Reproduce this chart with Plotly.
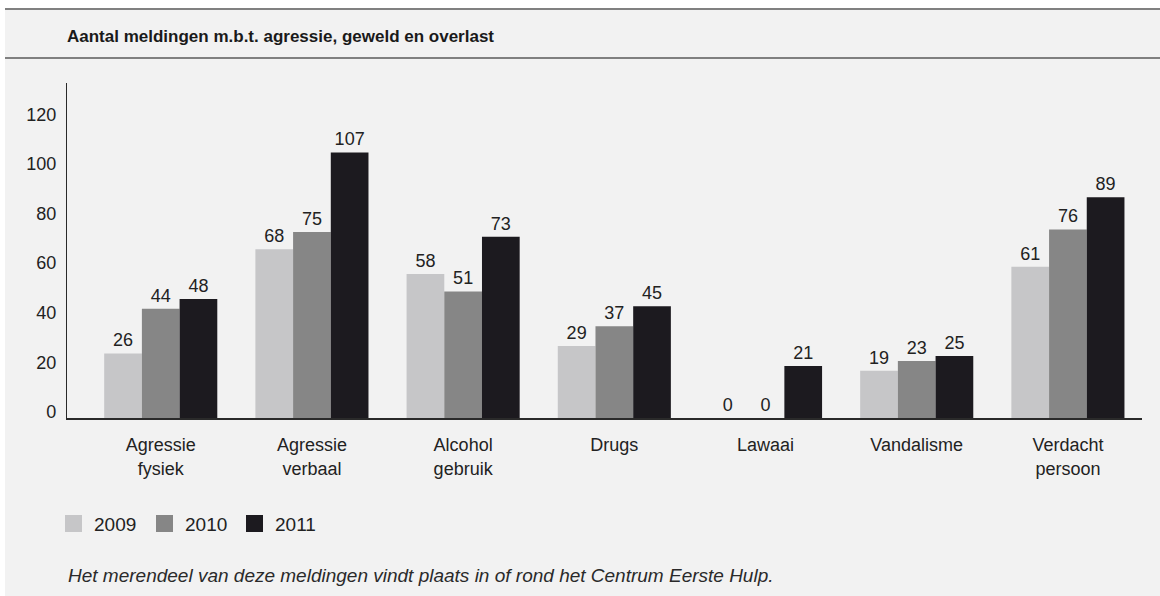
import plotly.graph_objects as go

# Data
categories = ["Agressie<br>fysiek", "Agressie<br>verbaal", "Alcohol<br>gebruik", "Drugs",
              "Lawaai", "Vandalisme", "Verdacht<br>persoon"]
years = ["2009", "2010", "2011"]
values_2009 = [26, 68, 58, 29, 0, 19, 61]
values_2010 = [44, 75, 51, 37, 0, 23, 76]
values_2011 = [48, 107, 73, 45, 21, 25, 89]
y_ticks = [0, 20, 40, 60, 80, 100, 120]

title_text = "Aantal meldingen m.b.t. agressie, geweld en overlast"
footnote_text = "Het merendeel van deze meldingen vindt plaats in of rond het Centrum Eerste Hulp."

colors = ["#c6c6c8", "#868686", "#1c1a1f"]
series = [values_2009, values_2010, values_2011]

W, H = 1160, 596
L, R, T, B = 67, 18, 83, 178
PW, PH = W - L - R, H - T - B
FONT = "Liberation Sans, Arial, sans-serif"
TEXT = "#222222"


def px(x):
    return (x - L) / PW


def py(y):
    return (H - B - y) / PH


fig = go.Figure()
for name, vals, col in zip(years, series, colors):
    fig.add_trace(go.Bar(
        x=categories, y=vals, name=name,
        marker=dict(color=col, line=dict(width=0)),
        text=vals, texttemplate="%{y}", textposition="outside",
        constraintext="none", cliponaxis=False,
        outsidetextfont=dict(family=FONT, size=18, color=TEXT),
        showlegend=False,
    ))

shapes = [
    # page background and header rules
    dict(type="rect", xref="paper", yref="paper", x0=px(5), x1=px(W + 5), y0=py(H + 5), y1=py(9),
         fillcolor="#f2f2f2", line=dict(width=0), layer="below"),
    dict(type="line", xref="paper", yref="paper", x0=px(5), x1=px(W + 5), y0=py(9), y1=py(9),
         line=dict(color="#808080", width=2)),
    dict(type="line", xref="paper", yref="paper", x0=px(5), x1=px(W + 5), y0=py(58), y1=py(58),
         line=dict(color="#808080", width=2)),
]

annotations = [
    dict(text="<b>" + title_text + "</b>", xref="paper", yref="paper", x=px(65), y=py(37),
         xanchor="left", yanchor="middle", showarrow=False,
         font=dict(family=FONT, size=17, color="#1a1a1a")),
    dict(text="<i>" + footnote_text + "</i>", xref="paper", yref="paper", x=px(66), y=py(575),
         xanchor="left", yanchor="middle", showarrow=False,
         font=dict(family=FONT, size=19, color="#2a2a2a")),
]

# Legend: swatch + label per year
legend_x = [65, 156, 246]
for lx, name, col in zip(legend_x, years, colors):
    shapes.append(dict(type="rect", xref="paper", yref="paper", x0=px(lx), x1=px(lx + 17),
                       y0=py(532), y1=py(515), fillcolor=col, line=dict(width=0)))
    annotations.append(dict(text=name, xref="paper", yref="paper", x=px(lx + 27), y=py(524),
                            xanchor="left", yanchor="middle", showarrow=False,
                            font=dict(family=FONT, size=19, color=TEXT)))

fig.update_layout(
    width=W, height=H,
    margin=dict(l=L, r=R, t=T, b=B, pad=0),
    paper_bgcolor="white", plot_bgcolor="#f2f2f2",
    barmode="group", bargap=0.252, bargroupgap=0,
    font=dict(family=FONT, size=18, color=TEXT),
    shapes=shapes, annotations=annotations,
    showlegend=False,
)
fig.update_xaxes(
    range=[-0.62, 6.49], showgrid=False, zeroline=False,
    showline=True, linecolor="#2a2a2a", linewidth=1.5,
    ticks="", tickfont=dict(family=FONT, size=18, color=TEXT),
    ticklabelstandoff=10,
)
fig.update_yaxes(
    range=[0, 135], tickvals=y_ticks, showgrid=False, zeroline=False,
    showline=True, linecolor="#2a2a2a", linewidth=1.2,
    ticks="", tickfont=dict(family=FONT, size=18, color=TEXT),
    ticklabelstandoff=6, ticklabelshift=-6,
)

fig.write_html("out.html")
